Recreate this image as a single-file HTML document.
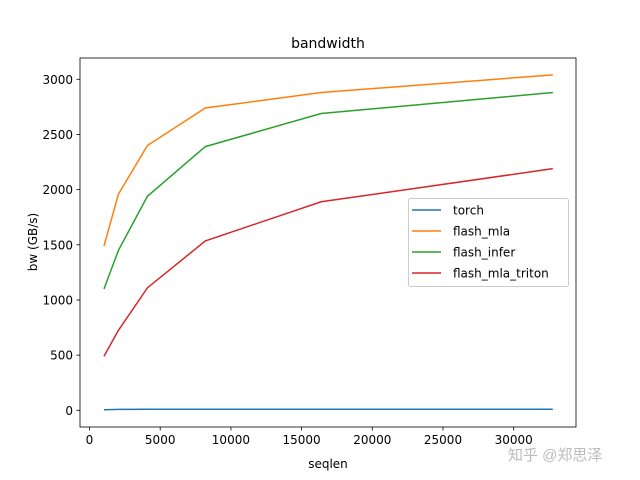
<!DOCTYPE html>
<html><head><meta charset="utf-8"><style>
html,body{margin:0;padding:0;background:#fff;}
svg{display:block;font-family:"DejaVu Sans","Liberation Sans",sans-serif;}
</style></head><body>
<svg id="chart" width="640" height="480" viewBox="0 0 640 480" xmlns="http://www.w3.org/2000/svg"></svg>
<script>
const seqlen = [1024, 2048, 4096, 8192, 16384, 32768];
const torch = [5, 8, 9, 9, 9, 9];
const flashMla = [1490, 1960, 2400, 2740, 2880, 3040];
const flashInfer = [1100, 1450, 1940, 2390, 2690, 2880];
const flashMlaTriton = [490, 725, 1110, 1535, 1890, 2190];
const xTicks = [0, 5000, 10000, 15000, 20000, 25000, 30000];
const yTicks = [0, 500, 1000, 1500, 2000, 2500, 3000];
const seriesNames = ["torch", "flash_mla", "flash_infer", "flash_mla_triton"];
const seriesColors = ["#1f77b4", "#ff7f0e", "#2ca02c", "#d62728"];
const seriesData = [torch, flashMla, flashInfer, flashMlaTriton];

const L = 80, R = 576, T = 58, B = 427;
const x = v => 89.5 + v * (70.7 / 5000);
const y = v => 410.3 - v * (331 / 3000);
const NS = "http://www.w3.org/2000/svg";
const svg = document.getElementById("chart");
function mk(tag, attrs, parent) {
  const e = document.createElementNS(NS, tag);
  for (const k in attrs) e.setAttribute(k, attrs[k]);
  (parent || svg).appendChild(e);
  return e;
}
// series
seriesData.forEach((d, i) => {
  const p = mk("polyline", {points: d.map((v, j) => x(seqlen[j]) + "," + y(v)).join(" "), fill: "none", stroke: seriesColors[i], "stroke-width": 1.5});
  
  
});
// frame
const fr = mk("rect", {x: L, y: T, width: R - L, height: B - T, fill: "none", stroke: "#000", "stroke-width": 0.8});


// x ticks
xTicks.forEach(t => {
  const g = mk("g", {});
  
  
  mk("line", {x1: x(t), x2: x(t), y1: B, y2: B + 3.5, stroke: "#000", "stroke-width": 0.8}, g);
  const tx = mk("text", {x: x(t), y: B + 17, "font-size": 12, "text-anchor": "middle"}, g);
  tx.textContent = t;
});
yTicks.forEach(t => {
  const g = mk("g", {});
  
  
  mk("line", {x1: L - 3.5, x2: L, y1: y(t), y2: y(t), stroke: "#000", "stroke-width": 0.8}, g);
  const tx = mk("text", {x: L - 7, y: y(t) + 4.5, "font-size": 12, "text-anchor": "end"}, g);
  tx.textContent = t;
});
// labels
let e = mk("text", {x: 328, y: 48, "font-size": 14, "text-anchor": "middle"}); e.textContent = "bandwidth";
 
e = mk("text", {x: 328, y: 468, "font-size": 12, "text-anchor": "middle"}); e.textContent = "seqlen";
 
e = mk("text", {x: 0, y: 0, "font-size": 12, "text-anchor": "middle", transform: "translate(37,242) rotate(-90)"}); e.textContent = "bw (GB/s)";
 
// legend
const lg = mk("g", {});


mk("rect", {x: 408.5, y: 198.5, width: 160, height: 88, rx: 2, fill: "#fff", "fill-opacity": 0.8, stroke: "#ccc", "stroke-width": 1}, lg);
seriesNames.forEach((n, i) => {
  const g = mk("g", {}, lg);
  
  
  const yy = 210 + i * 21;
  mk("line", {x1: 412, x2: 441, y1: yy, y2: yy, stroke: seriesColors[i], "stroke-width": 1.5}, g);
  const tx = mk("text", {x: 453, y: yy + 4.5, "font-size": 12}, g);
  tx.textContent = n;
});
// watermark
e = mk("text", {x: 508, y: 460, "font-size": 15, fill: "#bbb", "font-family": "'Liberation Sans','Noto Sans CJK SC',sans-serif"}); e.textContent = "知乎 @郑思泽";
 
</script>
</body></html>
